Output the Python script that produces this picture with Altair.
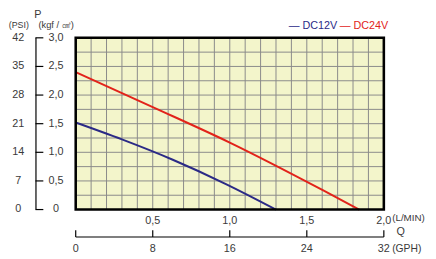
import altair as alt
import pandas as pd

# ---- data ----
dc12_q = [0.0, 0.30, 0.63, 0.975, 1.30]
dc12_p = [1.52, 1.225, 0.87, 0.446, 0.0]
dc24_q = [0.0, 0.50, 1.00, 1.61, 1.84]
dc24_p = [2.40, 1.79, 1.17, 0.33, 0.0]
series_names = ["DC12V", "DC24V"]
series_colors = ["#2b2a86", "#e2231a"]

kgf_ticks = [0, 0.5, 1.0, 1.5, 2.0, 2.5, 3.0]
kgf_labels = ["0", "0,5", "1,0", "1,5", "2,0", "2,5", "3,0"]
psi_labels = ["0", "7", "14", "21", "28", "35", "42"]
lmin_ticks = [0.5, 1.0, 1.5, 2.0]
lmin_labels = ["0,5", "1,0", "1,5", "2,0"]
gph_ticks = [0, 8, 16, 24, 32]
gph_per_lmin = 16

grid_x = [i / 10 for i in range(21)]
grid_y = [i / 4 for i in range(13)]

FONT = "Liberation Sans"
TXT = "#3a3a3a"
GRID = "#8a8a8a"

curves = pd.DataFrame(
    {"q": dc12_q + dc24_q,
     "p": dc12_p + dc24_p,
     "series": [series_names[0]] * len(dc12_q) + [series_names[1]] * len(dc24_q)}
)
kgf_df = pd.DataFrame({"v": kgf_ticks, "kgf": kgf_labels, "psi": psi_labels})
lmin_df = pd.DataFrame({"q": lmin_ticks, "lab": lmin_labels})
gph_df = pd.DataFrame({"q": [g / gph_per_lmin for g in gph_ticks], "lab": [str(g) for g in gph_ticks]})
gx_df = pd.DataFrame({"q": grid_x, "y0": 0.0, "y1": 3.0})
gy_df = pd.DataFrame({"p": grid_y, "x0": 0.0, "x1": 2.0})
frame_df = pd.DataFrame({"x0": [0.0], "x1": [2.0], "y0": [0.0], "y1": [3.0]})
legend_df = pd.DataFrame({"series": series_names, "lab": ["— " + s for s in series_names], "px": [217, 269]})

xs = alt.Scale(domain=[0, 2], nice=False, zero=False)
ys = alt.Scale(domain=[0, 3], nice=False, zero=False)
cs = alt.Scale(domain=series_names, range=series_colors)

grid_v = alt.Chart(gx_df).mark_rule(color=GRID, strokeWidth=1).encode(
    x=alt.X("q:Q", scale=xs, axis=None),
    y=alt.Y("y0:Q", scale=ys, axis=None), y2="y1:Q")
grid_h = alt.Chart(gy_df).mark_rule(color=GRID, strokeWidth=1).encode(
    y=alt.Y("p:Q", scale=ys, axis=None),
    x=alt.X("x0:Q", scale=xs, axis=None), x2="x1:Q")

lines = alt.Chart(curves).mark_line(strokeWidth=2, interpolate="monotone").encode(
    x=alt.X("q:Q", scale=xs, axis=None),
    y=alt.Y("p:Q", scale=ys, axis=None),
    color=alt.Color("series:N", scale=cs, legend=None),
    detail="series:N",
)

frame = alt.Chart(frame_df).mark_rect(fillOpacity=0, stroke="black", strokeWidth=2.6).encode(
    x=alt.X("x0:Q", scale=xs, axis=None), x2="x1:Q",
    y=alt.Y("y0:Q", scale=ys, axis=None), y2="y1:Q",
)

# left pressure axes
kgf_line = alt.Chart(frame_df).mark_rule(color="black", strokeWidth=1.2).encode(
    x=alt.value(-40.5), y=alt.Y("y0:Q", scale=ys, axis=None), y2="y1:Q")
kgf_tick = alt.Chart(kgf_df).mark_rule(color="black", strokeWidth=1.2).encode(
    x=alt.value(-41), x2=alt.value(-33), y=alt.Y("v:Q", scale=ys, axis=None))
kgf_text = alt.Chart(kgf_df).mark_text(font=FONT, fontSize=11, color=TXT, align="center", baseline="middle").encode(
    x=alt.value(-20), y=alt.Y("v:Q", scale=ys, axis=None), text="kgf:N")
psi_text = alt.Chart(kgf_df).mark_text(font=FONT, fontSize=11, color=TXT, align="center", baseline="middle").encode(
    x=alt.value(-58.5), y=alt.Y("v:Q", scale=ys, axis=None), text="psi:N")

# bottom flow axes
lmin_text = alt.Chart(lmin_df).mark_text(font=FONT, fontSize=11, color=TXT, align="center", baseline="middle").encode(
    x=alt.X("q:Q", scale=xs, axis=None), y=alt.value(186.5), text="lab:N")
gph_line = alt.Chart(frame_df).mark_rule(color="black", strokeWidth=1.2).encode(
    x=alt.X("x0:Q", scale=xs, axis=None), x2="x1:Q", y=alt.value(203))
gph_tick = alt.Chart(gph_df).mark_rule(color="black", strokeWidth=1.2).encode(
    x=alt.X("q:Q", scale=xs, axis=None), y=alt.value(196), y2=alt.value(203))
gph_text = alt.Chart(gph_df).mark_text(font=FONT, fontSize=11, color=TXT, align="center", baseline="middle").encode(
    x=alt.X("q:Q", scale=xs, axis=None), y=alt.value(215.5), text="lab:N")

def label(txt, x, y, size=10, align="left"):
    return alt.Chart(pd.DataFrame({"t": [txt]})).mark_text(
        font=FONT, fontSize=size, color=TXT, align=align, baseline="middle"
    ).encode(x=alt.value(x), y=alt.value(y), text="t:N")

titles = [
    label("(PSI)", -58, -13, 9, "center"),
    label("P", -38.5, -23.5, 11, "center"),
    label("(kgf / ㎠)", -38, -13, 9.5, "left"),
    label("(L/MIN)", 322.5, 184, 10),
    label("Q", 327, 198, 11),
    label("(GPH)", 322.5, 215.5, 10.5),
]

legend = alt.Chart(legend_df).mark_text(font=FONT, fontSize=11, align="left", baseline="middle").encode(
    x=alt.X("px:Q", scale=None, axis=None), y=alt.value(-12.5), text="lab:N",
    color=alt.Color("series:N", scale=cs, legend=None))

chart = alt.layer(
    grid_v, grid_h, lines, frame, kgf_line, kgf_tick, kgf_text, psi_text,
    lmin_text, gph_line, gph_tick, gph_text, legend, *titles
).properties(
    width=314, height=175,
    autosize=alt.AutoSizeParams(type="none"),
    padding={"left": 69, "top": 28, "right": 45, "bottom": 48},
).configure_view(fill="#f3f5cb", stroke=None)

chart.save("out.html", embed_options={"renderer": "svg", "actions": False})
